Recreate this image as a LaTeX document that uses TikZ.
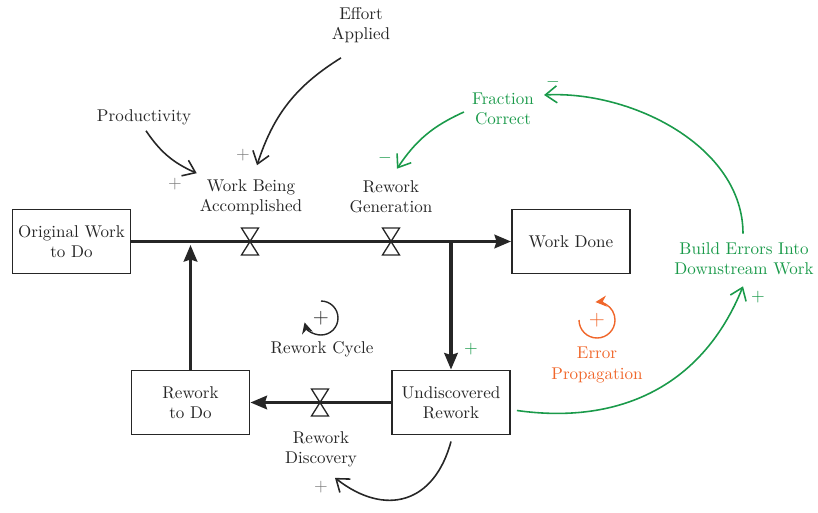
\documentclass[tikz,border=0pt]{standalone}
\usetikzlibrary{arrows.meta,calc}
\definecolor{ink}{HTML}{262626}
\definecolor{loopgreen}{HTML}{1A9A4A}
\definecolor{errorange}{HTML}{F0662A}
\definecolor{signgray}{HTML}{7A7A7A}

\begin{document}
\begin{tikzpicture}[x=0.02cm,y=0.02cm,
  txt/.style={font=\fontsize{9.7}{11.5}\selectfont, align=center, text=ink, inner sep=1pt},
  stock/.style={txt, draw=ink, line width=1.1pt, minimum width=2.36cm, minimum height=1.28cm},
  pipe/.style={draw=ink, line width=1.8pt, -{Stealth[length=3.3mm,width=2.7mm,inset=0.4mm]}},
  valveline/.style={draw=ink, line width=0.75pt, line join=miter},
  valve/.pic={\draw[valveline] (-8.5,13.5) -- (8.5,13.5) -- (-8.5,-13.5) -- (8.5,-13.5) -- cycle;},
  link/.style={draw=ink, line width=0.9pt, -{Straight Barb[length=2.3mm,width=3.4mm]}},
  glink/.style={link, draw=loopgreen},
  sign/.style={txt, text=signgray},
  gsign/.style={txt, text=loopgreen},
  loopline/.style={line width=0.8pt, -{Stealth[length=2.2mm,width=2.2mm]}}
]
\useasboundingbox (0,0) rectangle (818,512);

% stocks
\node[stock] (ow)  at (71.5,270.5) {Original Work\\to Do};
\node[stock] (wd)  at (571,270.5)  {Work Done};
\node[stock] (rtd) at (190.5,109.5) {Rework\\to Do};
\node[stock] (ur)  at (451,109.5)  {Undiscovered\\Rework};

% flow junctions and valves
\coordinate (v1) at (250,270.5);
\coordinate (v2) at (391,270.5);
\coordinate (v3) at (320,109.5);
\coordinate (split) at (451,270.5);
\coordinate (join) at (190.5,267);

% pipes
\draw[pipe] (ow.east) -- (wd.west);
\draw[pipe] (split) -- (ur.north);
\draw[pipe] (ur.west) -- (rtd.east);
\draw[pipe] (rtd.north) -- (join);
\pic at (v1) {valve};
\pic at (v2) {valve};
\pic at (v3) {valve};

% flow and auxiliary labels
\node[txt] (wba)   at (251,315) {Work Being\\Accomplished};
\node[txt] (rg)    at (391,315) {Rework\\Generation};
\node[txt] (rdisc) at (321,63)  {Rework\\Discovery};
\node[txt] (eff)   at (361,487) {Effort\\Applied};
\node[txt] (prod)  at (144,395) {Productivity};
\node[txt, text=loopgreen] (fc) at (503,403) {Fraction\\Correct};
\node[txt, text=loopgreen] (be) at (744,253) {Build Errors Into\\Downstream Work};

% causal links
\draw[link] ($(eff.south)+(-20,-13)$) to[bend right=20] ($(wba.north)+(6,12)$);
\draw[link] ($(prod.south)+(2,-4)$) to[bend right=16] ($(wba.north west)+(-1,4)$);
\draw[link] ($(ur.south)+(0,-6)$) to[out=255, in=-38, looseness=1.35] ($(rdisc.south)+(14,-9)$);
\draw[glink] ($(fc.west)+(-6,-3)$) to[bend right=16] ($(rg.north)+(6,10)$);
\draw[glink] ($(be.north)+(-1,7)$) to[out=90, in=3, looseness=0.92] ($(fc.east)+(8,14)$);
\draw[glink] ($(ur.east)+(6,-8)$) to[out=-8, in=-112, looseness=1.05] ($(be.south)+(-1,-9)$);

% polarities
\node[sign]  (s1) at (243,357) {$+$};
\node[sign]  (s2) at (175,328) {$+$};
\node[sign]  (s3) at (321,25)  {$+$};
\node[gsign] (s4) at (385,354) {$-$};
\node[gsign] (s5) at (553,430) {$-$};
\node[gsign] (s6) at (758,215) {$+$};
\node[gsign] (s7) at (471,163) {$+$};

% feedback loops
\node[txt] (rcsign) at (321,194) {\large$+$};
\node[txt] (rcyc) at (322,163) {Rework Cycle};
\draw[loopline, draw=ink] ([shift={(90:17)}]rcsign.center) arc[start angle=90, end angle=-165, radius=17];

\node[txt, text=errorange] (epsign) at (597,192) {\large$+$};
\node[txt, text=errorange] (eprop) at (597,147) {Error\\Propagation};
\draw[loopline, draw=errorange] ([shift={(180:18)}]epsign.center) arc[start angle=180, end angle=455, radius=18];
\end{tikzpicture}
\end{document}
